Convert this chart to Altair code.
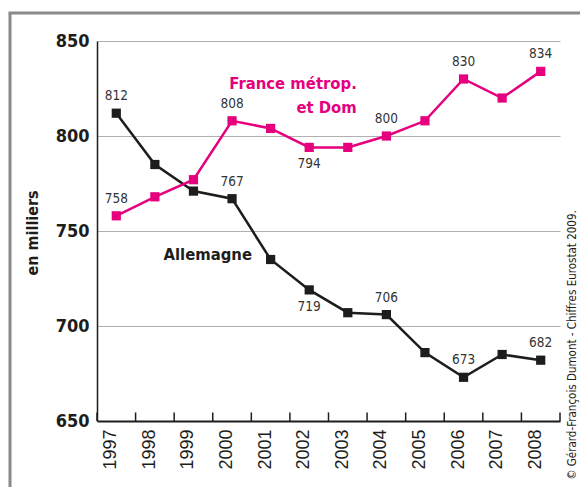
import altair as alt
import pandas as pd

# ---- data ----
years = [str(y) for y in range(1997, 2009)]
allemagne = [812, 785, 771, 767, 735, 719, 707, 706, 686, 673, 685, 682]
france = [758, 768, 777, 808, 804, 794, 794, 800, 808, 830, 820, 834]
series_names = ["Allemagne", "France métrop. et Dom"]
series_colors = ["#1d1d1b", "#e6007e"]
label_years = ["1997", "2000", "2002", "2004", "2006", "2008"]
allemagne_label_side = ["above", "above", "below", "above", "above", "above"]
france_label_side = ["above", "above", "below", "above", "above", "above"]
y_ticks = [650, 700, 750, 800, 850]
y_title = "en milliers"
credit = "© Gérard-François Dumont - Chiffres Eurostat 2009."

rows = []
for name, vals, sides in [(series_names[0], allemagne, allemagne_label_side),
                          (series_names[1], france, france_label_side)]:
    side_map = dict(zip(label_years, sides))
    for y, v in zip(years, vals):
        rows.append({"year": y, "value": v, "series": name,
                     "side": side_map.get(y, "none")})
df = pd.DataFrame(rows)
years_df = pd.DataFrame({"year": years})
one = pd.DataFrame({"k": [0]})

NARROW = "DejaVu Sans Condensed"

xscale = alt.Scale(domain=years, paddingInner=0, paddingOuter=0)
yscale = alt.Scale(domain=[650, 850], nice=False, zero=False)
cscale = alt.Scale(domain=series_names, range=series_colors)

base = alt.Chart(df)

x_main = alt.X("year:O", scale=xscale, title=None,
               axis=alt.Axis(labelAngle=270, labelAlign="right", labelBaseline="alphabetic",
                             labelFont="Liberation Sans", labelFontSize=18, labelColor="#1d1d1b",
                             labelPadding=8, ticks=False, tickSize=0, domainColor="#1d1d1b",
                             domainWidth=2, grid=False))
y_main = alt.Y("value:Q", scale=yscale, title=None,
               axis=alt.Axis(values=y_ticks, labelFont=NARROW, labelFontWeight="bold",
                             labelFontSize=18, labelColor="#1d1d1b", labelPadding=8,
                             ticks=False, tickSize=0, domainColor="#1d1d1b", domainWidth=1.5,
                             grid=True, gridColor="#b0b0b0", gridWidth=1))

lines = base.mark_line(strokeWidth=2.5).encode(
    x=x_main, y=y_main,
    color=alt.Color("series:N", scale=cscale, legend=None),
    detail="series:N")

points = base.mark_square(size=85, opacity=1).encode(
    x=alt.X("year:O", title=None), y=alt.Y("value:Q", title=None),
    color=alt.Color("series:N", scale=cscale, legend=None))

lab_common = dict(font=NARROW, fontSize=13.5, color="#333333", baseline="middle", align="center")
labels_above = base.transform_filter(alt.datum.side == "above").mark_text(dy=-17, **lab_common).encode(
    x=alt.X("year:O", title=None), y=alt.Y("value:Q", title=None), text="value:Q")
labels_below = base.transform_filter(alt.datum.side == "below").mark_text(dy=17, **lab_common).encode(
    x=alt.X("year:O", title=None), y=alt.Y("value:Q", title=None), text="value:Q")

# inward ticks on the x axis at band boundaries
ticks = alt.Chart(years_df).mark_rule(color="#1d1d1b", strokeWidth=1.5).encode(
    x=alt.X("year:O", bandPosition=0, title=None),
    y=alt.Y(datum=650, type="quantitative"),
    y2=alt.Y2(datum=654.5))
tick_end = alt.Chart(years_df).transform_filter(alt.datum.year == years[-1]).mark_rule(
    color="#1d1d1b", strokeWidth=1.5).encode(
    x=alt.X("year:O", bandPosition=1, title=None),
    y=alt.Y(datum=650, type="quantitative"),
    y2=alt.Y2(datum=654.5))

# series names
lab_all = alt.Chart(one).mark_text(text=series_names[0], font=NARROW, fontWeight="bold",
                                   fontSize=16.5, color=series_colors[0], align="center",
                                   baseline="alphabetic", dx=-5).encode(
    x=alt.X(datum=years[3], type="ordinal", bandPosition=0),
    y=alt.Y(datum=735, type="quantitative"))
lab_fr = alt.Chart(one).mark_text(text=["France métrop.", "et Dom"], font=NARROW, fontWeight="bold",
                                  fontSize=16.5, lineHeight=24, color=series_colors[1], align="right",
                                  baseline="alphabetic", dx=9).encode(
    x=alt.X(datum=years[6], type="ordinal"),
    y=alt.Y(datum=824.6, type="quantitative"))

# y title and credit, rotated
ytitle = alt.Chart(one).mark_text(text=y_title, font=NARROW, fontWeight="bold", fontSize=16,
                                  color="#1d1d1b", angle=270, align="center", baseline="middle",
                                  dy=-64).encode(
    x=alt.X(datum=years[0], type="ordinal", bandPosition=0),
    y=alt.Y(datum=749, type="quantitative"))
credit_t = alt.Chart(one).mark_text(text=credit, font=NARROW, fontSize=11.5, color="#1d1d1b",
                                    angle=270, align="center", baseline="middle", dy=13).encode(
    x=alt.X(datum=years[-1], type="ordinal", bandPosition=1),
    y=alt.Y(datum=690, type="quantitative"))

# grey frame of the original figure
frame_v = alt.Chart(one).mark_rule(color="#8a8a8a", strokeWidth=3).encode(
    x=alt.value(-87), y=alt.value(-28), y2=alt.value(450))
frame_h = alt.Chart(one).mark_rule(color="#8a8a8a", strokeWidth=3).encode(
    x=alt.value(-88.5), x2=alt.value(490), y=alt.value(-28))

chart = alt.layer(lines, points, labels_above, labels_below, ticks, tick_end,
                  lab_all, lab_fr, ytitle, credit_t, frame_v, frame_h).properties(
    width=463, height=380,
    padding={"left": 89, "top": 33, "right": 20, "bottom": 66},
    autosize=alt.AutoSizeParams(type="none"),
    background="white",
).configure_view(stroke=None)

chart.save("out.html", embed_options={"renderer": "svg", "actions": False})
